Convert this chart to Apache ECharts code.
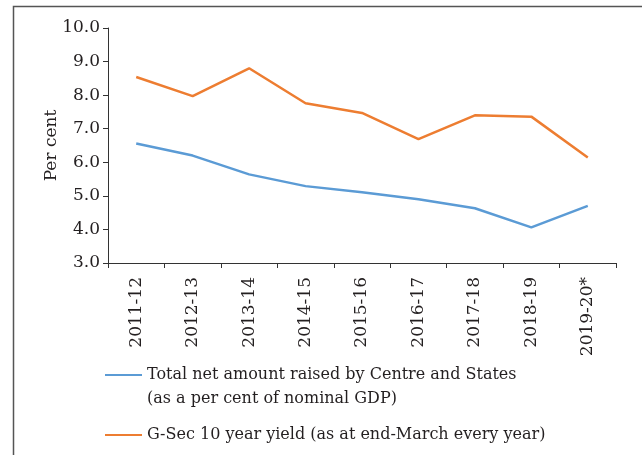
<!DOCTYPE html>
<html>
<head>
<meta charset="utf-8">
<script src="https://cdn.jsdelivr.net/npm/echarts@6/dist/echarts.min.js"></script>
<style>html,body{margin:0;padding:0;background:#fff;}#c{width:642px;height:455px;}</style>
</head>
<body>
<div id="c"></div>
<script>
var categories = ['2011-12','2012-13','2013-14','2014-15','2015-16','2016-17','2017-18','2018-19','2019-20*'];
var totalNetRaised = [6.56, 6.20, 5.64, 5.29, 5.11, 4.90, 4.63, 4.06, 4.70];
var gsecYield = [8.54, 7.97, 8.80, 7.76, 7.47, 6.69, 7.40, 7.36, 6.14];
var seriesNames = ['Total net amount raised by Centre and States', 'G-Sec 10 year yield (as at end-March every year)'];
var seriesNote = '(as a per cent of nominal GDP)';
var yTitle = 'Per cent';

var FONT = 'DejaVu Serif';
var TXT = '#231f20';
var chart = echarts.init(document.getElementById('c'), null, {renderer: 'canvas'});
chart.setOption({
  animation: false,
  backgroundColor: '#fff',
  textStyle: {fontFamily: FONT, color: TXT},
  grid: {left: 108, right: 26, top: 28, bottom: 192, containLabel: false},
  xAxis: {
    type: 'category',
    data: categories,
    boundaryGap: true,
    axisLine: {show: true, lineStyle: {color: '#333', width: 1}},
    axisTick: {show: true, interval: 0, length: 5, lineStyle: {color: '#333'}},
    axisLabel: {interval: 0, rotate: 90, margin: 14, fontFamily: FONT, fontSize: 17, color: TXT}
  },
  yAxis: {
    type: 'value',
    min: 3, max: 10, interval: 1,
    name: yTitle,
    nameLocation: 'middle',
    nameGap: 48,
    nameRotate: 90,
    nameMoveOverlap: false,
    nameTextStyle: {fontFamily: FONT, fontSize: 17, color: TXT},
    axisLine: {show: true, lineStyle: {color: '#333', width: 1}},
    axisTick: {show: true, length: 5, lineStyle: {color: '#333'}},
    splitLine: {show: false},
    axisLabel: {margin: 8, fontFamily: FONT, fontSize: 17, color: TXT,
      formatter: function (v) { return v.toFixed(1); }}
  },
  legend: [
    {data: [seriesNames[0]], left: 100, top: 362, orient: 'vertical', icon: 'rect', itemWidth: 37, itemHeight: 2,
     textStyle: {fontFamily: FONT, fontSize: 16, color: TXT}},
    {data: [seriesNames[1]], left: 100, top: 422, orient: 'vertical', icon: 'rect', itemWidth: 37, itemHeight: 2,
     textStyle: {fontFamily: FONT, fontSize: 16, color: TXT}}
  ],
  graphic: [
    {type: 'rect', shape: {x: 13.5, y: 6.5, width: 700, height: 600}, style: {fill: null, stroke: '#555', lineWidth: 1.5}, silent: true},
    {type: 'text', left: 147, top: 391, style: {text: seriesNote, font: '16px "DejaVu Serif"', fill: TXT}}
  ],
  series: [
    {name: seriesNames[0], type: 'line', data: totalNetRaised, showSymbol: false, symbol: 'none',
     lineStyle: {color: '#5B9BD5', width: 2.5}, itemStyle: {color: '#5B9BD5'}},
    {name: seriesNames[1], type: 'line', data: gsecYield, showSymbol: false, symbol: 'none',
     lineStyle: {color: '#ED7D31', width: 2.5}, itemStyle: {color: '#ED7D31'}}
  ]
});
</script>
</body>
</html>
